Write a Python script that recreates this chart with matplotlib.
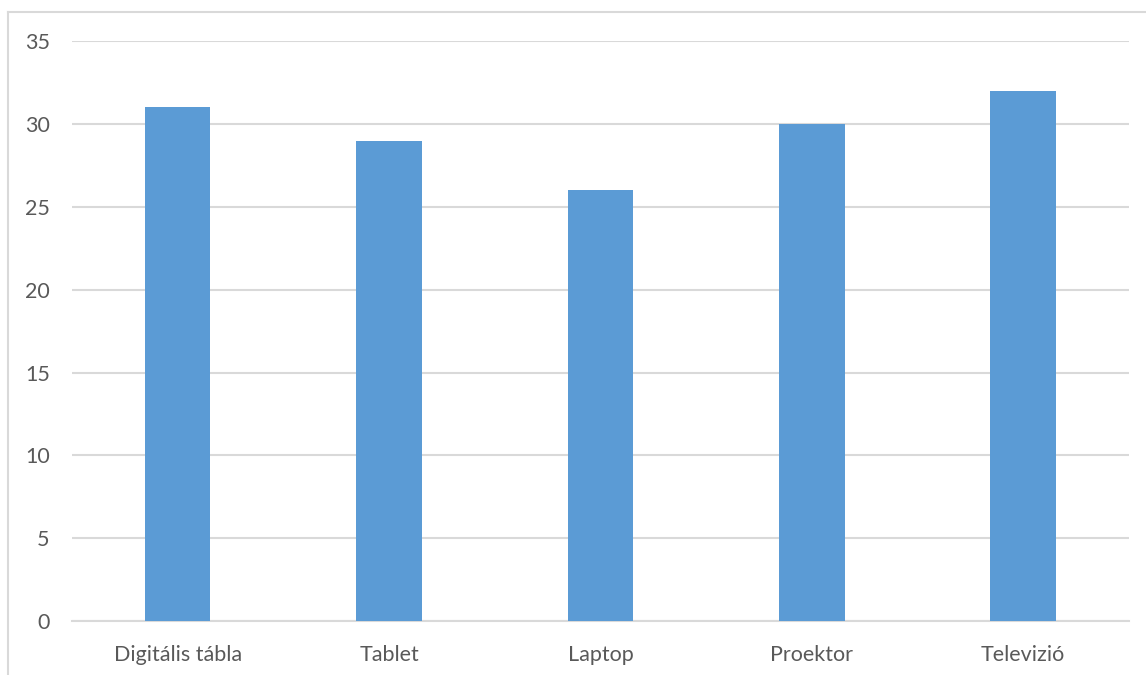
import matplotlib
matplotlib.use("Agg")
import matplotlib.pyplot as plt
from matplotlib.lines import Line2D

# ── data ──────────────────────────────────────────────────────────────────────
categories = ["Digitális tábla", "Tablet", "Laptop", "Proektor", "Televizió"]
values     = [31, 29, 26, 30, 32]
yticks     = [0, 5, 10, 15, 20, 25, 30, 35]

plt.rcParams["font.family"] = ["Lato", "DejaVu Sans"]

fig = plt.figure(figsize=(11.46, 6.75), dpi=100)
ax = fig.add_axes([0.0628, 0.08, 0.9222, 0.859])

x = range(len(categories))
ax.bar(x, values, width=0.31, color="#5B9BD5", zorder=3)

ax.set_xlim(-0.5, len(categories) - 0.5)
ax.set_ylim(0, 35)
ax.set_yticks(yticks)
ax.set_xticks(list(x))
ax.set_xticklabels(categories)

ax.grid(axis="y", color="#d9d9d9", linewidth=1.5, zorder=0)
for s in ["top", "right", "left"]:
    ax.spines[s].set_visible(False)
ax.spines["bottom"].set_color("#d9d9d9")
ax.spines["bottom"].set_linewidth(1.5)
ax.tick_params(axis="both", length=0, labelsize=15.5, colors="#595959")
ax.tick_params(axis="y", pad=16)
ax.tick_params(axis="x", pad=17)

# outer chart border (top and left visible in the crop)
fig.add_artist(Line2D([8 / 1146, 1.0], [1 - 12 / 675, 1 - 12 / 675],
                      transform=fig.transFigure, color="#d9d9d9", linewidth=1.5))
fig.add_artist(Line2D([8 / 1146, 8 / 1146], [0.0, 1 - 12 / 675],
                      transform=fig.transFigure, color="#d9d9d9", linewidth=1.5))

fig.savefig("out.png", dpi=100)
